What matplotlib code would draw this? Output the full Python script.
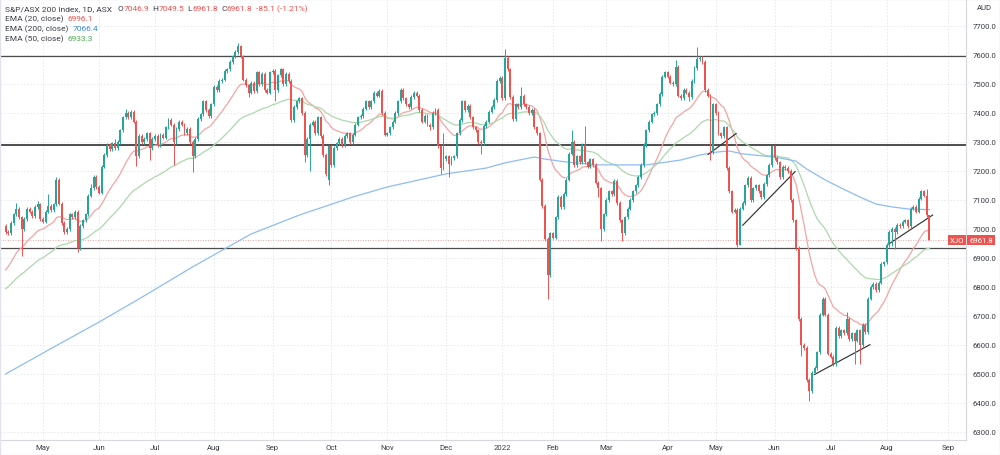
import numpy as np
import pandas as pd
import matplotlib
matplotlib.use("Agg")
import matplotlib.pyplot as plt
import matplotlib.patches as patches

plt.rcParams['font.family'] = ['Roboto', 'DejaVu Sans']

# daily closes of the S&P/ASX 200 (Apr 2021 - 23 Aug 2022)
closes = [
    # Apr 2021
    6990, 6985, 7020, 7050, 7070, 7040, 7000, 7035, 7070, 7060, 7045, 7075, 7085, 7035,
    # May
    7025, 7060, 7080, 7065, 7085, 7170, 7087, 7020, 6990, 7000, 7050, 7040, 7060, 6935,
    7010, 7030, 7050, 7115, 7140, 7180, 7145,
    # Jun
    7125, 7215, 7255, 7290, 7275, 7295, 7280, 7300, 7340, 7385, 7400, 7385, 7405, 7370,
    7250, 7320, 7300, 7310, 7330, 7280, 7310,
    # Jul
    7320, 7290, 7325, 7315, 7350, 7375, 7360, 7300, 7345, 7370, 7360, 7330, 7345, 7300,
    7250, 7310, 7380, 7395, 7440, 7410, 7390, 7430,
    # Aug
    7490, 7480, 7510, 7515, 7545, 7550, 7575, 7595, 7610, 7630, 7595, 7515, 7495, 7470,
    7505, 7475, 7540, 7500, 7535, 7480, 7470, 7540,
    # Sep
    7545, 7480, 7530, 7550, 7500, 7535, 7510, 7375, 7420, 7440, 7450, 7400, 7255, 7310,
    7360, 7370, 7330, 7385, 7320, 7255, 7190, 7285,
    # Oct
    7220, 7280, 7295, 7310, 7290, 7320, 7330, 7300, 7325, 7360, 7385, 7390, 7415, 7440,
    7420, 7440, 7470, 7460, 7475, 7400, 7325,
    # Nov
    7330, 7350, 7370, 7400, 7440, 7480, 7450, 7430, 7420, 7455, 7470, 7460, 7410, 7370,
    7390, 7360, 7350, 7400, 7410, 7285, 7210, 7240,
    # Dec
    7250, 7225, 7245, 7250, 7330, 7375, 7440, 7410, 7425, 7385, 7350, 7340, 7300, 7295,
    7355, 7370, 7405, 7420, 7445, 7510, 7520,
    # Jan 2022
    7450, 7590, 7550, 7455, 7380, 7430, 7420, 7460, 7430, 7420, 7400, 7410, 7350, 7330,
    7170, 7080, 6965, 6840, 6985,
    # Feb
    6970, 7040, 7110, 7075, 7120, 7170, 7260, 7300, 7220, 7250, 7230, 7290, 7230, 7215,
    7240, 7220, 7160, 7140, 7000, 7050,
    # Mar
    7100, 7130, 7120, 7165, 7090, 7030, 6985, 7040, 7070, 7100, 7130, 7150, 7180, 7220,
    7290, 7340, 7370, 7395, 7400, 7430, 7465, 7525, 7540,
    # Apr
    7525, 7505, 7500, 7560, 7460, 7450, 7480, 7470, 7455, 7510, 7555, 7585, 7590, 7575,
    7480, 7460, 7290, 7430,
    # May
    7400, 7330, 7320, 7350, 7210, 7130, 7060, 7065, 6945, 7070, 7090, 7150, 7175, 7100,
    7140, 7150, 7130, 7110, 7155, 7185, 7220, 7285,
    # Jun
    7245, 7230, 7180, 7215, 7210, 7200, 7100, 7030, 6935, 6690, 6600, 6590, 6480, 6440,
    6505, 6520, 6575, 6705, 6760, 6705, 6570,
    # Jul
    6560, 6535, 6660, 6630, 6650, 6640, 6690, 6620, 6640, 6615, 6650, 6600, 6670, 6645,
    6760, 6800, 6810, 6790, 6815, 6880, 6885,
    # Aug
    6945, 6990, 7000, 6990, 7015, 7010, 7025, 7030, 7010, 7070, 7075, 7060, 7105, 7130,
    7115, 7046.9, 6961.8,
]
first_open = 7010
gap_opens = {121: 7170, 265: 7265, 346: 7046.9}
long_highs = {4: 7090, 12: 7095, 16: 7121, 19: 7180, 32: 7155, 41: 7310, 45: 7415,
              47: 7410, 87: 7640, 164: 7330, 187: 7622, 193: 7490, 212: 7340,
              217: 7355, 251: 7583, 259: 7628, 315: 6714, 345: 7138, 346: 7049.5}
long_lows = {6: 6907, 27: 6920, 49: 7217, 54: 7238, 63: 7222, 70: 7196, 91: 7455,
             101: 7443, 112: 7230, 114: 7200, 121: 7150, 159: 7340, 163: 7190,
             166: 7179, 178: 7260, 203: 6760, 222: 7110, 223: 6960, 231: 6960,
             256: 7440, 264: 7237, 274: 6938, 275: 6944, 298: 6563, 301: 6408,
             318: 6534, 320: 6535, 332: 6940, 333: 6931}

ema20_start = 6845
ema50_start = 6786
ema200_bars = [0, 20, 35, 50, 70, 92, 110, 130, 143, 165, 180, 187, 198, 202, 210, 222,
               240, 253, 260, 266, 271, 276, 288, 296, 300, 307, 313, 320, 326, 332, 338, 346]
ema200_vals = [6500, 6603, 6679, 6759, 6869, 6983, 7048, 7110, 7145, 7190, 7210, 7228,
               7248, 7241, 7231, 7221, 7221, 7238, 7255, 7265, 7269, 7259, 7248, 7234,
               7207, 7169, 7141, 7110, 7086, 7076, 7069, 7066.4]

levels = [7595, 7291, 6934]
trendlines = [((263.1, 7257), (273.6, 7329)),
              ((276.1, 7013), (295.7, 7198)),
              ((302.9, 6498), (323.7, 6601)),
              ((330.4, 6946), (347.2, 7048))]

holidays = pd.to_datetime(["2021-04-26", "2021-06-14", "2021-12-27", "2021-12-28",
                           "2022-01-03", "2022-01-26", "2022-04-15", "2022-04-18",
                           "2022-04-25", "2022-06-13"])

# ---------------------------------------------------------------
UP, DOWN = '#26a69a', '#ef5350'
TXT = '#3a3d45'

days = pd.bdate_range("2021-04-12", "2022-09-02")
days = days[~days.isin(holidays)]

c = np.array(closes, dtype=float)
n = len(c)
o = np.concatenate([[first_open], c[:-1]])
for k, v in gap_opens.items():
    o[k] = v
top = np.maximum(o, c)
bot = np.minimum(o, c)
hi = top + 6
lo = bot - 6
for k, v in long_highs.items():
    hi[k] = v
for k, v in long_lows.items():
    lo[k] = v
lo[n - 1] = c[n - 1]


def ema(vals, span, start):
    a = 2.0 / (span + 1)
    out = np.empty(len(vals))
    prev = start
    for i, v in enumerate(vals):
        prev = a * v + (1 - a) * prev
        out[i] = prev
    return out


fig = plt.figure(figsize=(10, 4.56), dpi=100)
ax = fig.add_axes([0, 15 / 456, 0.966, 441 / 456])
ax.set_xlim(-2.1, 359.7)
ax.set_ylim(6272.4, 7793)

# grid and axes
ax.set_yticks(range(6300, 7800, 100))
per = days.to_period('M')
starts = [i for i in range(1, len(days)) if per[i] != per[i - 1]]
labels = [days[i].strftime('%Y') if days[i].month == 1 else days[i].strftime('%b') for i in starts]
ax.set_xticks(starts)
ax.set_xticklabels(labels)
ax.grid(True, color='#e4e6ea', lw=0.6, ls=(0, (2, 2)))
ax.set_axisbelow(True)

ax.yaxis.tick_right()
ax.set_yticklabels([f"{v:.1f}" for v in range(6300, 7800, 100)])
ax.tick_params(axis='y', length=0, pad=4.5, labelsize=5.6, colors=TXT)
ax.tick_params(axis='x', length=0, pad=3, labelsize=5.6, colors=TXT)
for s in ['top', 'left']:
    ax.spines[s].set_visible(False)
for s in ['right', 'bottom']:
    ax.spines[s].set_color('#d6d8de')
    ax.spines[s].set_linewidth(0.8)

# levels and trendlines
for lv in levels:
    ax.axhline(lv, color='#4d4d4d', lw=0.9 if lv != 7291 else 1.4, zorder=2)
for (x0, y0), (x1, y1) in trendlines:
    ax.plot([x0, x1], [y0, y1], color='#333333', lw=0.85, zorder=4)

# EMAs
x = np.arange(n)
ax.plot(x, ema(c, 20, ema20_start), color='#f6a3a3', lw=0.9, zorder=3)
ax.plot(x, ema(c, 50, ema50_start), color='#acd9ac', lw=0.9, zorder=3)
ax.plot(ema200_bars, ema200_vals, color='#8fbcf2', lw=0.9, zorder=3)

# candles
cols = np.where(c >= o, UP, DOWN)
ax.vlines(x, lo, hi, colors=cols, lw=0.7, zorder=5)
ax.bar(x, np.maximum(top - bot, 3), bottom=bot, width=0.72, color=cols, lw=0, zorder=6)

# last price line + tags
last = c[-1]
ax.axhline(last, color=DOWN, lw=0.6, ls=(0, (1, 2)), alpha=0.7, zorder=2)
yfrac = 15 / 456 + (last - 6272.4) / (7793 - 6272.4) * 441 / 456
fig.text(0.957, yfrac, "XJO", color='white', fontsize=5.6, ha='center', va='center',
         bbox=dict(boxstyle='square,pad=0.25', fc=DOWN, ec='none'))
fig.text(0.981, yfrac, f"{last:.1f}", color='white', fontsize=5.6, ha='center', va='center',
         bbox=dict(boxstyle='square,pad=0.25', fc=DOWN, ec='none'))
fig.text(0.984, 1 - 8 / 456, "AUD", color=TXT, fontsize=5.6, ha='center', va='center')


def text_line(ypix, parts, size=6.0):
    s, col = parts[0]
    t = fig.text(5 / 1000, 1 - ypix / 456, s, color=col, fontsize=size, va='center')
    for s, col, gap in parts[1:]:
        t = ax.annotate(s, xy=(1, 0.5), xycoords=t, xytext=(gap, 0),
                        textcoords='offset points', va='center', ha='left',
                        color=col, fontsize=size, annotation_clip=False)


text_line(9, [("S&P/ASX 200 Index, 1D, ASX", TXT),
              ("O", TXT, 4), ("7046.9", DOWN, 0),
              ("H", TXT, 2.5), ("7049.5", DOWN, 0),
              ("L", TXT, 2.5), ("6961.8", DOWN, 0),
              ("C", TXT, 2.5), ("6961.8", DOWN, 0),
              ("-85.1 (-1.21%)", DOWN, 2.5)])
text_line(19, [("EMA (20, close)", TXT), ("6996.1", DOWN, 3)])
text_line(29, [("EMA (200, close)", TXT), ("7066.4", '#3d8be0', 3)])
text_line(39, [("EMA (50, close)", TXT), ("6933.3", '#4caf50', 3)])

fig.patches.append(patches.Rectangle((0, 0), 1, 1, transform=fig.transFigure,
                                     fill=False, ec='#e0e3eb', lw=1))

fig.savefig("out.png", dpi=100)
